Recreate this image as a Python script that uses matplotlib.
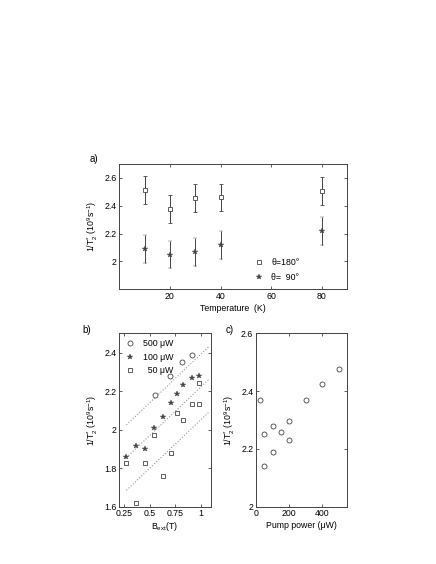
import numpy as np
import matplotlib
matplotlib.use('Agg')
import matplotlib.pyplot as plt
from matplotlib.lines import Line2D

plt.rcParams['font.family'] = ['Liberation Sans', 'DejaVu Sans']
plt.rcParams['font.size'] = 6
plt.rcParams['mathtext.fontset'] = 'custom'
plt.rcParams['mathtext.rm'] = 'Liberation Sans'
plt.rcParams['mathtext.it'] = 'Liberation Sans'

# a) temperature dependence
temp = [10, 20, 30, 40, 80]
rate_180 = [2.515, 2.375, 2.455, 2.46, 2.505]
rate_90 = [2.09, 2.05, 2.07, 2.12, 2.22]
err_180 = [0.1, 0.1, 0.1, 0.1, 0.1]
err_90 = [0.1, 0.1, 0.1, 0.1, 0.1]

# b) field dependence
b_500 = [0.55, 0.70, 0.82, 0.92]
r_500 = [2.18, 2.28, 2.35, 2.39]
b_100 = [0.27, 0.36, 0.45, 0.54, 0.63, 0.71, 0.77, 0.83, 0.92, 0.98]
r_100 = [1.86, 1.915, 1.90, 2.01, 2.065, 2.14, 2.185, 2.23, 2.27, 2.28]
b_50 = [0.27, 0.36, 0.45, 0.54, 0.63, 0.71, 0.77, 0.83, 0.92, 0.98, 0.98]
r_50 = [1.825, 1.62, 1.825, 1.97, 1.76, 1.88, 2.085, 2.05, 2.135, 2.135, 2.24]
fit_slope = 0.5
fit_icpt = [1.89, 1.72, 1.55]
fit_range = [0.27, 1.09]

# c) pump power dependence
power = [25, 50, 50, 100, 100, 150, 200, 200, 300, 400, 500]
r_power = [2.37, 2.25, 2.14, 2.28, 2.19, 2.26, 2.295, 2.23, 2.37, 2.425, 2.475]

gray = '#444444'
ylab = r'1/T$_2^{*}$ (10$^9$s$^{-1}$)'
star = dict(marker='*', ms=3.8, mfc=gray, mec=gray, mew=0.3)
sq = dict(marker='s', ms=3.3, mfc='white', mec=gray, mew=0.6)
circ = dict(marker='o', ms=3.6, mfc='white', mec=gray, mew=0.6)

fig = plt.figure(figsize=(4.36, 5.64), dpi=100)
ax_a = fig.add_axes([0.2736, 0.487, 0.523, 0.2222])
ax_b = fig.add_axes([0.2736, 0.1016, 0.2097, 0.3074])
ax_c = fig.add_axes([0.5872, 0.1016, 0.2094, 0.3074])

for ax in (ax_a, ax_b, ax_c):
    ax.tick_params(direction='in', top=True, right=True, length=2, width=0.6,
                   colors=gray, labelcolor='black', labelsize=6.3, pad=2)
    for s in ax.spines.values():
        s.set_color(gray)
        s.set_linewidth(0.7)

# panel a
ax_a.errorbar(temp, rate_180, yerr=err_180, ls='none', ecolor=gray,
              elinewidth=0.7, capsize=1.5, **sq)
ax_a.errorbar(temp, rate_90, yerr=err_90, ls='none', ecolor=gray,
              elinewidth=0.7, capsize=1.5, **star)
ax_a.set_xlim(0, 90)
ax_a.set_ylim(1.8, 2.7)
ax_a.set_xticks([20, 40, 60, 80])
ax_a.set_yticks([2, 2.2, 2.4, 2.6])
ax_a.set_yticklabels(['2', '2.2', '2.4', '2.6'])
ax_a.set_xlabel('Temperature  (K)', labelpad=2, fontsize=6.3)
ax_a.set_ylabel(ylab, labelpad=3, fontsize=6.3)
handles = [Line2D([], [], ls='none', **sq), Line2D([], [], ls='none', **star)]
ax_a.legend(handles, ['θ=180°', 'θ=  90°'], loc='upper left',
            bbox_to_anchor=(0.56, 0.31), frameon=False, handlelength=1.0,
            handletextpad=0.9, labelspacing=0.6, fontsize=6.3)
ax_a.text(-0.13, 1.02, 'a)', transform=ax_a.transAxes, fontsize=7)

# panel b
xs = np.array(fit_range)
for a0 in fit_icpt:
    ax_b.plot(xs, a0 + fit_slope * xs, ':', color='#999999', lw=0.8)
ax_b.plot(b_500, r_500, ls='none', label='500 μW', **circ)
ax_b.plot(b_100, r_100, ls='none', label='100 μW', **star)
ax_b.plot(b_50, r_50, ls='none', label='  50 μW', **sq)
ax_b.set_xlim(0.2, 1.1)
ax_b.set_ylim(1.6, 2.5)
ax_b.set_xticks([0.25, 0.5, 0.75, 1])
ax_b.set_xticklabels(['0.25', '0.5', '0.75', '1'])
ax_b.set_yticks([1.6, 1.8, 2, 2.2, 2.4])
ax_b.set_yticklabels(['1.6', '1.8', '2', '2.2', '2.4'])
ax_b.set_xlabel(r'B$_{ext}$(T)', labelpad=1, fontsize=6.3)
ax_b.set_ylabel(ylab, labelpad=3, fontsize=6.3)
ax_b.legend(loc='upper left', bbox_to_anchor=(-0.02, 1.01), frameon=False,
            handlelength=1.0, handletextpad=1.0, labelspacing=0.5, fontsize=6.3)
ax_b.text(-0.4, 1.0, 'b)', transform=ax_b.transAxes, fontsize=7)

# panel c
ax_c.plot(power, r_power, ls='none', **circ)
ax_c.set_xlim(0, 550)
ax_c.set_ylim(2.0, 2.6)
ax_c.set_xticks([0, 200, 400])
ax_c.set_yticks([2, 2.2, 2.4, 2.6])
ax_c.set_yticklabels(['2', '2.2', '2.4', '2.6'])
ax_c.set_xlabel('Pump power (μW)', labelpad=2, fontsize=6.3)
ax_c.set_ylabel(ylab, labelpad=3, fontsize=6.3)
ax_c.text(-0.33, 1.0, 'c)', transform=ax_c.transAxes, fontsize=7)

fig.savefig('out.png', dpi=100)
